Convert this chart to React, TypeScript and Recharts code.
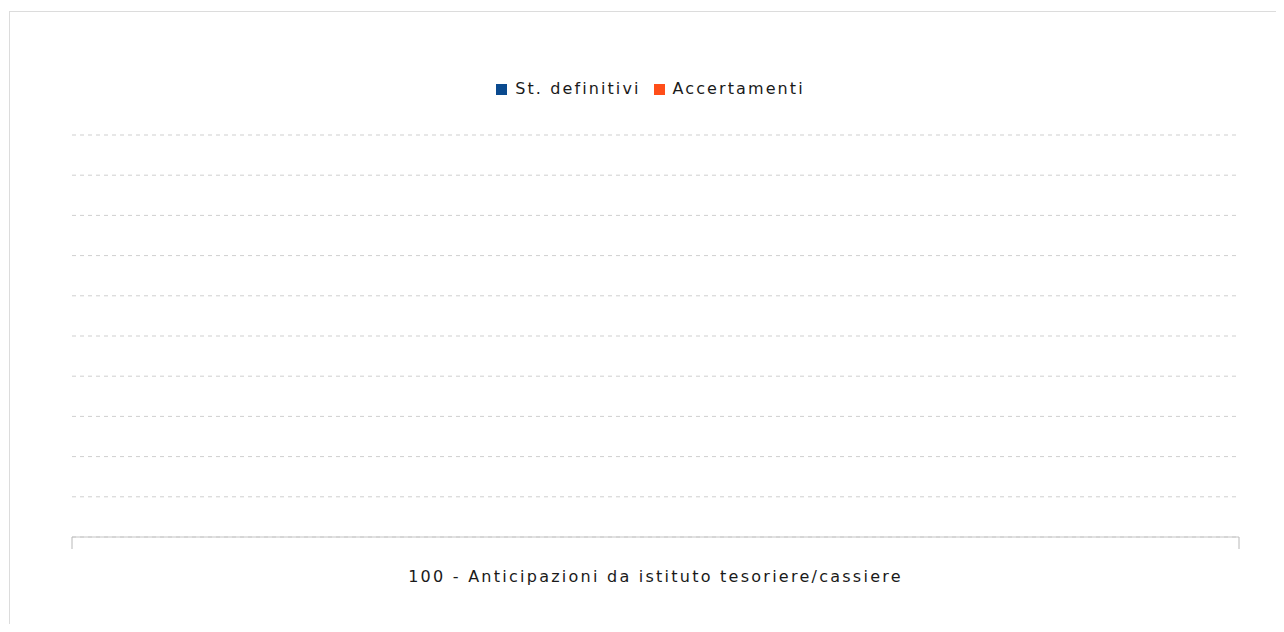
import { BarChart, Bar, XAxis, YAxis, CartesianGrid, Legend } from "recharts";

const categories = ["100 - Anticipazioni da istituto tesoriere/cassiere"];
const stDefinitivi = [0];
const accertamenti = [0];
const yTicks = [0, 1, 2, 3, 4, 5, 6, 7, 8, 9, 10];

const SERIES = [
  { key: "stDefinitivi", name: "St. definitivi", color: "#0a4a8f" },
  { key: "accertamenti", name: "Accertamenti", color: "#ff4e19" },
];

const FONT = "'DejaVu Sans', sans-serif";

const data = categories.map((name, i) => ({
  name,
  stDefinitivi: stDefinitivi[i],
  accertamenti: accertamenti[i],
}));

// tick that draws the label plus the two marks at the edges of the band
function CategoryTick(props: any) {
  const { x, y, payload, width } = props;
  const half = payload && payload.offset ? payload.offset : width / 2;
  return (
    <g>
      <line x1={x - half} y1={y} x2={x - half} y2={y + 12} stroke="#b8b8b8" />
      <line x1={x + half} y1={y} x2={x + half} y2={y + 12} stroke="#b8b8b8" />
      <text
        x={x}
        y={y + 45}
        textAnchor="middle"
        fill="#1a1a1a"
        fontFamily={FONT}
        fontSize={16}
        letterSpacing={2.25}
      >
        {payload.value}
      </text>
    </g>
  );
}

function LegendContent() {
  return (
    <div
      style={{
        display: "flex",
        justifyContent: "center",
        alignItems: "center",
        fontFamily: FONT,
        fontSize: 16,
        letterSpacing: 2.1,
        color: "#1a1a1a",
        lineHeight: "18px",
        paddingRight: 10,
      }}
    >
      {SERIES.map((s, i) => (
        <span
          key={s.key}
          style={{ display: "flex", alignItems: "center", marginRight: i === 0 ? 13 : 0 }}
        >
          <span
            style={{
              display: "inline-block",
              width: 11,
              height: 11,
              background: s.color,
              marginRight: 8,
            }}
          />
          {s.name}
        </span>
      ))}
    </div>
  );
}

export default function App() {
  return (
    <div style={{ width: 1268, height: 616, overflow: "hidden", position: "relative" }}>
      <div
        style={{
          position: "absolute",
          left: 1,
          top: 3,
          width: 1300,
          height: 700,
          border: "1px solid #dcdcdc",
          boxSizing: "border-box",
        }}
      />
      <div style={{ position: "absolute", left: 0, top: 0 }}>
        <BarChart
          width={1268}
          height={616}
          data={data}
          margin={{ top: 109, right: 37, bottom: 27, left: 64 }}
        >
          <CartesianGrid vertical={false} stroke="#cfcfcf" strokeDasharray="4 4" />
          <YAxis hide domain={[0, 10]} ticks={yTicks} />
          <XAxis
            dataKey="name"
            height={60}
            tickSize={0}
            tickMargin={0}
            tickLine={false}
            axisLine={{ stroke: "#c4c4c4" }}
            tick={<CategoryTick />}
          />
          <Legend
            verticalAlign="top"
            content={<LegendContent />}
            wrapperStyle={{ top: 72, left: 64, width: 1167 }}
          />
          {SERIES.map((s) => (
            <Bar key={s.key} dataKey={s.key} name={s.name} fill={s.color} isAnimationActive={false} />
          ))}
        </BarChart>
      </div>
    </div>
  );
}
